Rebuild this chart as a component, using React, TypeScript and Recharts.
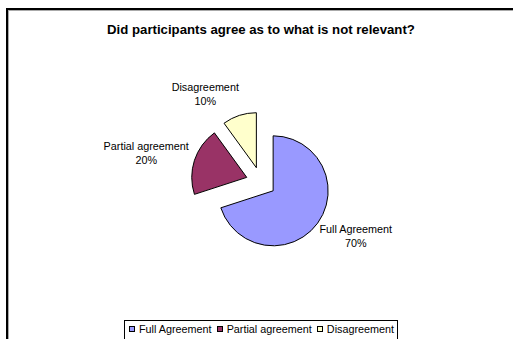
import React from 'react';
import { PieChart, Pie, Cell } from 'recharts';

const categories = ['Full Agreement', 'Partial agreement', 'Disagreement'];
const values = [70, 20, 10];
const percentLabels = ['70%', '20%', '10%'];
const colors = ['#9999FF', '#993366', '#FFFFCC'];

const data = categories.map((name, i) => ({ name, value: values[i], pct: percentLabels[i] }));

const W = 513;
const H = 339;
const CX = 261;
const CY = 182;
const R = 55;
const EXPLODE = 15;
const FONT = 'Arial, "Liberation Sans", sans-serif';
const LABEL_SIZE = 10.8;

const total = values.reduce((a, b) => a + b, 0);
const midAngles: number[] = [];
{
  let acc = 0;
  values.forEach((v) => {
    const start = 90 - (acc / total) * 360;
    const end = 90 - ((acc + v) / total) * 360;
    midAngles.push((start + end) / 2);
    acc += v;
  });
}

const RAD = Math.PI / 180;

let measureCtx: CanvasRenderingContext2D | null = null;
const measure = (s: string) => {
  if (typeof document !== 'undefined') {
    if (!measureCtx) measureCtx = document.createElement('canvas').getContext('2d');
    if (measureCtx) {
      measureCtx.font = `${LABEL_SIZE}px Arial, "Liberation Sans", sans-serif`;
      return measureCtx.measureText(s).width;
    }
  }
  return s.length * 5.25;
};

const makeLabel = (idx: number) => (props: any) => {
  if (props.index !== idx) return null;
  const { cx, cy, outerRadius, midAngle, name, payload } = props;
  const cos = Math.cos(-midAngle * RAD);
  const sin = Math.sin(-midAngle * RAD);
  const px = cx + (outerRadius + 8) * cos;
  const py = cy + (outerRadius + 8) * sin;
  const w = measure(String(name));
  const bx = cos >= 0 ? px - 5 + w / 2 : px + 2 - w / 2;
  const by = py + 14.5 * sin;
  return (
    <text x={bx} y={by} textAnchor="middle" fontFamily={FONT} fontSize={LABEL_SIZE} fill="#000">
      <tspan x={bx} y={by - 3.5}>{name}</tspan>
      <tspan x={bx} dy={14.5}>{payload.pct}</tspan>
    </text>
  );
};

export default function App() {
  return (
    <div style={{ position: 'absolute', left: 0, top: 0, width: W, height: H, overflow: 'hidden', background: '#fff' }}>
      <div
        style={{
          position: 'absolute',
          left: 6,
          top: 8,
          width: 520,
          height: 340,
          borderLeft: '2px solid #000',
          borderTop: '2px solid #000',
          boxShadow: 'inset 1px 1px 0 #aaa',
          boxSizing: 'border-box',
        }}
      />
      <div
        style={{
          position: 'absolute',
          left: 0,
          width: 522,
          top: 22,
          textAlign: 'center',
          fontFamily: FONT,
          fontWeight: 'bold',
          fontSize: 13.2,
          lineHeight: '16px',
          whiteSpace: 'nowrap',
        }}
      >
        Did participants agree as to what is not relevant?
      </div>
      <div style={{ position: 'absolute', left: 0, top: 0 }}>
        <PieChart width={W} height={H} margin={{ top: 0, right: 0, bottom: 0, left: 0 }}>
          {categories.map((_, k) => (
            <Pie
              key={k}
              data={data}
              dataKey="value"
              nameKey="name"
              cx={CX + EXPLODE * Math.cos(midAngles[k] * RAD)}
              cy={CY - EXPLODE * Math.sin(midAngles[k] * RAD)}
              outerRadius={R}
              startAngle={90}
              endAngle={-270}
              isAnimationActive={false}
              labelLine={false}
              label={makeLabel(k)}
            >
              {data.map((d, i) => (
                <Cell
                  key={i}
                  fill={i === k ? colors[i] : 'none'}
                  stroke={i === k ? '#000' : 'none'}
                  strokeWidth={1}
                />
              ))}
            </Pie>
          ))}
        </PieChart>
      </div>
      <div
        style={{
          position: 'absolute',
          left: 124,
          top: 320,
          width: 274,
          height: 30,
          border: '1px solid #000',
          boxSizing: 'border-box',
          fontFamily: FONT,
          fontSize: LABEL_SIZE,
          display: 'flex',
          alignItems: 'flex-start',
          paddingTop: 2,
          paddingLeft: 4,
          whiteSpace: 'nowrap',
        }}
      >
        {categories.map((c, i) => (
          <span key={c} style={{ display: 'inline-flex', alignItems: 'center', marginRight: 5, height: 12 }}>
            <span
              style={{
                display: 'inline-block',
                width: 4,
                height: 4,
                background: colors[i],
                border: '1px solid #000',
                marginRight: 4,
              }}
            />
            <span style={{ lineHeight: '12px' }}>{c}</span>
          </span>
        ))}
      </div>
    </div>
  );
}
